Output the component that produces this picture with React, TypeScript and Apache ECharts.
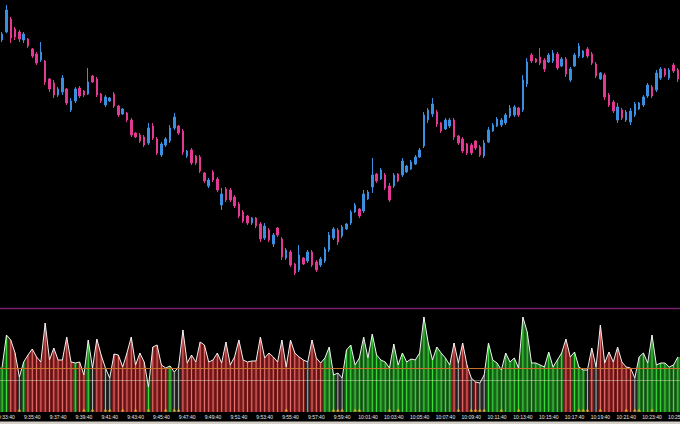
import { useEffect, useRef } from "react";
import * as echarts from "echarts";

// 20-second candles, [open, close, low, high]
const candles: number[][] = [
  [260, 266, 258, 268], [268, 290, 267, 295], [281, 262, 257, 283], [271, 263, 260, 273], [268, 261, 258, 270],
  [260, 266, 257, 268], [261, 254, 252, 262], [251, 244, 242, 252], [246, 237, 235, 248], [240, 248, 238, 258],
  [239, 218, 215, 240], [221, 211, 208, 222], [217, 205, 202, 220], [205, 211, 203, 213], [208, 222, 205, 225],
  [211, 197, 195, 212], [190, 199, 188, 202], [199, 211, 197, 213], [212, 204, 202, 214], [209, 205, 203, 210],
  [206, 218, 205, 232], [224, 218, 217, 225], [221, 205, 203, 223], [206, 199, 197, 207], [195, 203, 193, 205],
  [199, 202, 198, 203], [206, 194, 192, 208], [194, 185, 183, 195], [186, 191, 185, 192], [187, 180, 178, 188],
  [180, 165, 163, 182], [167, 163, 162, 168], [165, 159, 157, 167], [163, 155, 153, 165], [157, 172, 155, 177],
  [174, 162, 160, 177], [161, 147, 145, 163], [145, 156, 143, 158], [155, 161, 153, 163], [159, 172, 157, 175],
  [172, 183, 170, 187], [174, 167, 165, 175], [169, 148, 145, 171], [144, 149, 142, 150], [150, 137, 135, 152],
  [144, 137, 135, 145], [143, 129, 127, 145], [127, 119, 117, 128], [114, 120, 112, 122], [128, 120, 118, 130],
  [121, 110, 108, 123], [95, 106, 90, 112], [111, 100, 98, 113], [110, 100, 98, 112], [103, 94, 92, 105],
  [96, 84, 82, 98], [88, 79, 77, 90], [84, 77, 75, 85], [77, 82, 75, 83], [82, 74, 72, 83],
  [76, 61, 58, 78], [62, 74, 60, 77], [70, 60, 58, 72], [56, 65, 53, 67], [72, 65, 63, 73],
  [61, 43, 40, 63], [42, 50, 40, 52], [48, 35, 33, 50], [36, 27, 25, 37], [30, 45, 28, 55],
  [42, 36, 35, 43], [39, 48, 37, 50], [48, 35, 33, 50], [38, 30, 28, 40], [35, 41, 33, 43],
  [39, 51, 37, 53], [50, 65, 48, 68], [62, 71, 60, 73], [70, 58, 55, 72], [64, 73, 62, 75],
  [71, 76, 70, 77], [77, 88, 75, 90], [88, 95, 87, 97], [91, 84, 82, 92], [89, 106, 87, 110],
  [101, 108, 100, 110], [113, 125, 107, 142], [126, 119, 117, 127], [121, 130, 120, 132], [125, 112, 110, 127],
  [114, 100, 98, 117], [114, 125, 112, 127], [126, 119, 118, 127], [125, 139, 123, 142], [128, 134, 127, 135],
  [131, 138, 130, 140], [136, 143, 135, 145], [143, 150, 142, 152], [154, 185, 152, 188], [180, 190, 177, 192],
  [186, 196, 183, 202], [188, 176, 173, 190], [177, 169, 167, 178], [171, 180, 170, 182], [174, 180, 172, 182],
  [180, 163, 160, 182], [164, 157, 155, 165], [161, 149, 147, 163], [156, 147, 145, 157], [155, 147, 145, 157],
  [159, 152, 150, 160], [153, 145, 143, 155], [144, 157, 142, 160], [158, 170, 157, 173], [169, 175, 168, 177],
  [174, 181, 173, 183], [175, 180, 173, 182], [177, 185, 175, 187], [184, 192, 182, 195], [185, 193, 183, 195],
  [192, 185, 183, 193], [190, 220, 188, 225], [216, 238, 213, 242], [245, 239, 237, 247], [241, 238, 237, 242],
  [243, 237, 235, 252], [240, 231, 228, 242], [238, 245, 237, 247], [239, 247, 237, 250], [246, 232, 230, 248],
  [234, 241, 233, 243], [241, 226, 223, 243], [220, 231, 218, 233], [234, 245, 233, 247], [244, 254, 242, 257],
  [243, 249, 242, 250], [251, 244, 242, 253], [246, 237, 235, 248], [236, 224, 222, 238], [221, 227, 220, 228],
  [225, 203, 200, 227], [205, 195, 193, 207], [198, 189, 187, 200], [180, 193, 177, 197], [190, 182, 180, 192],
  [180, 188, 178, 190], [178, 189, 175, 192], [185, 196, 183, 198], [191, 197, 190, 198], [195, 203, 193, 205],
  [204, 215, 202, 217], [213, 204, 202, 215], [210, 227, 208, 230], [222, 231, 220, 233], [231, 225, 223, 232],
  [222, 230, 220, 232], [235, 229, 227, 237], [230, 221, 218, 232],
];

// histogram values under the white line
const volumes: number[] = [
  45, 77, 72, 59, 35, 50, 57, 63, 55, 50,
  89, 52, 64, 52, 52, 75, 50, 49, 50, 37,
  72, 44, 73, 57, 44, 34, 58, 57, 45, 59,
  75, 47, 59, 50, 25, 65, 67, 47, 44, 46,
  40, 45, 82, 49, 57, 50, 70, 67, 50, 52,
  59, 49, 70, 47, 55, 72, 52, 50, 51, 51,
  75, 54, 59, 55, 50, 72, 45, 72, 59, 55,
  52, 50, 72, 54, 49, 54, 65, 37, 39, 34,
  62, 67, 47, 54, 75, 54, 78, 57, 52, 50,
  44, 68, 47, 59, 50, 53, 52, 59, 95, 69,
  52, 65, 59, 54, 47, 69, 49, 69, 47, 34,
  30, 29, 37, 69, 52, 49, 42, 59, 50, 54,
  44, 95, 80, 49, 49, 47, 45, 60, 45, 52,
  59, 73, 55, 60, 45, 42, 42, 64, 45, 87,
  49, 60, 50, 65, 50, 45, 44, 34, 55, 59,
  49, 77, 47, 49, 49, 45, 47, 55,
];

// g = green, r = red, n = neutral (gray)
const barKinds: string[] = (
  "ggrrngrrrr" + "rrrrrrrgrr" + "gnrrnnrrrr" + "rrrrgrrrrg" + "nnrrrrrrrr" +
  "rrrrrrrrrr" + "rrrrrrrrrr" + "rnrrrgggnn" + "gggggggggg" + "gggggggggg" +
  "gggggrnrrn" + "rnnggggggg" + "gggggggggg" + "grrgggnrnr" + "rrrrrrrngg" +
  "gggggggg"
).split("");

// small yellow markers at the base
const markIdx: number[] = [
  4, 19, 21, 24, 25, 28, 31, 34, 38, 40, 41, 66, 77, 78, 79, 82, 83, 90, 92,
  106, 109, 110, 111, 112, 116, 120, 134, 135, 136, 139, 145, 147, 148, 151,
];

const levelHigh = 44;
const levelLow = 32;

const startSec = 9 * 3600 + 33 * 60 + 20;
const times: string[] = candles.map((_, i) => {
  const s = startSec + i * 20;
  const h = Math.floor(s / 3600);
  const m = Math.floor((s % 3600) / 60);
  const sec = s % 60;
  return `${h}:${String(m).padStart(2, "0")}:${String(sec).padStart(2, "0")}`;
});

const kindColors: Record<string, { bar: string; fill: string }> = {
  g: { bar: "#3fe03f", fill: "#1b681b" },
  r: { bar: "#f07474", fill: "#781a1a" },
  n: { bar: "#b4b4b4", fill: "#262626" },
};

export default function App() {
  const ref = useRef<HTMLDivElement>(null);

  useEffect(() => {
    if (!ref.current) return;
    const chart = echarts.init(ref.current, null, { renderer: "svg" });

    chart.setOption({
      animation: false,
      backgroundColor: "#000000",
      grid: [
        { left: 0, right: 0, top: 0, height: 300, outerBoundsMode: "none" },
        { left: 0, right: 0, top: 312, height: 100, outerBoundsMode: "none" },
      ],
      xAxis: [
        {
          type: "category",
          gridIndex: 0,
          data: times,
          axisLine: { show: false },
          axisTick: { show: false },
          axisLabel: { show: false },
        },
        {
          type: "category",
          gridIndex: 1,
          data: times,
          axisLine: { show: false },
          axisTick: { show: false },
          axisLabel: {
            interval: (index: number) => index % 6 === 1,
            color: "#e6e6e6",
            fontSize: 5,
            fontFamily: "Liberation Sans",
            margin: 2,
          },
        },
      ],
      yAxis: [
        { type: "value", gridIndex: 0, min: 0, max: 300, show: false, splitLine: { show: false } },
        { type: "value", gridIndex: 1, min: 0, max: 100, show: false, splitLine: { show: false } },
      ],
      graphic: [
        {
          type: "line",
          shape: { x1: 0, y1: 308.5, x2: 680, y2: 308.5 },
          style: { stroke: "#7a1f6c", lineWidth: 1.5 },
        },
        {
          type: "rect",
          shape: { x: 0, y: 421.5, width: 680, height: 3 },
          style: { fill: "#d4d0c8" },
        },
      ],
      series: [
        {
          type: "candlestick",
          xAxisIndex: 0,
          yAxisIndex: 0,
          data: candles,
          barWidth: 2,
          itemStyle: {
            color: "#3b8fe0",
            color0: "#e23a93",
            borderColor: "#3b8fe0",
            borderColor0: "#e23a93",
            borderWidth: 1,
          },
        },
        {
          type: "custom",
          xAxisIndex: 1,
          yAxisIndex: 1,
          data: volumes.map((v, i) => [i, v]),
          encode: { x: 0, y: 1 },
          z: 2,
          renderItem: (_params: any, api: any) => {
            const i = api.value(0) as number;
            const v = api.value(1) as number;
            const prev = volumes[i - 1] ?? v;
            const next = volumes[i + 1] ?? v;
            const [x, y] = api.coord([i, v]);
            const base = api.coord([i, 0])[1];
            const w = api.size([1, 0])[0];
            const yl = api.coord([i, (prev + v) / 2])[1];
            const yr = api.coord([i, (v + next) / 2])[1];
            const c = kindColors[barKinds[i]] ?? kindColors.n;
            return {
              type: "group",
              children: [
                {
                  type: "polygon",
                  shape: {
                    points: [
                      [x - w / 2, base],
                      [x - w / 2, yl],
                      [x, y],
                      [x + w / 2, yr],
                      [x + w / 2, base],
                    ],
                  },
                  style: { fill: c.fill },
                },
                {
                  type: "line",
                  shape: { x1: x, y1: base, x2: x, y2: y },
                  style: { stroke: c.bar, lineWidth: 1 },
                },
              ],
            };
          },
        },
        {
          type: "line",
          xAxisIndex: 1,
          yAxisIndex: 1,
          data: volumes,
          symbol: "none",
          z: 4,
          lineStyle: { color: "#f2f2f2", width: 1 },
          markLine: {
            silent: true,
            symbol: "none",
            label: { show: false },
            data: [
              { yAxis: levelHigh, lineStyle: { color: "#c4722c", width: 1, type: "solid" } },
              { yAxis: levelLow, lineStyle: { color: "rgba(225,225,200,0.45)", width: 1, type: "solid" } },
            ],
          },
        },
        {
          type: "scatter",
          xAxisIndex: 1,
          yAxisIndex: 1,
          data: markIdx.map((i) => [i, 2]),
          symbol: "triangle",
          symbolSize: [4, 3],
          z: 5,
          itemStyle: { color: "#e8b020" },
        },
      ],
    });

    return () => {
      chart.dispose();
    };
  }, []);

  return (
    <div
      ref={ref}
      style={{ position: "fixed", left: 0, top: 0, width: 680, height: 424, background: "#000" }}
    />
  );
}
